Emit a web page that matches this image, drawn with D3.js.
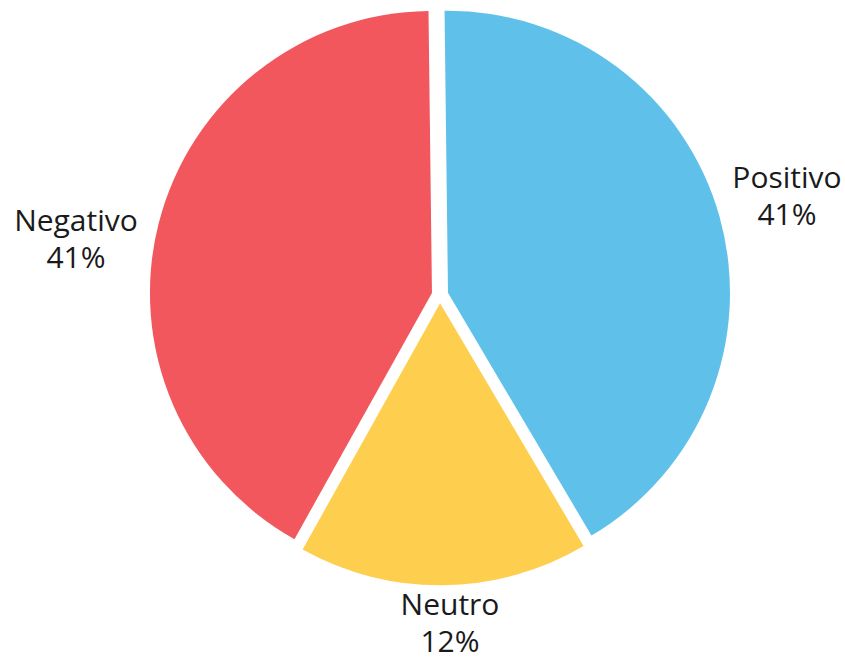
<!DOCTYPE html>
<html>
<head>
<meta charset="utf-8">
<script src="https://cdn.jsdelivr.net/npm/d3@7"></script>
<style>
  html, body { margin: 0; padding: 0; background: #ffffff; }
  svg { display: block; }
</style>
</head>
<body>
<svg id="chart" width="845" height="660"></svg>
<script>
// ---- data ----
const categories = ["Positivo", "Neutro", "Negativo"];
const values = [41.7, 16.6, 41.7];          // slice sizes as drawn
const percentLabels = ["41%", "12%", "41%"]; // label text as printed
const colors = ["#5FC1EA", "#FECE4F", "#F2575D"];

// ---- layout ----
const W = 845, H = 660;
const cx = 440, cy = 295, radius = 282, explode = 8.3;
const rot = -0.7 * Math.PI / 180;
// label block centres (x) and first baseline (y)
const labelAnchors = [[787, 188], [450, 615], [76, 231]];
const lineGap = 37;

const svg = d3.select("#chart");
const g = svg.append("g").attr("transform", `translate(${cx},${cy})`);

const pie = d3.pie().sort(null).value(d => d)
  .startAngle(rot).endAngle(rot + 2 * Math.PI);
const arcs = pie(values);
const arc = d3.arc().innerRadius(0).outerRadius(radius);

g.selectAll("path.slice")
  .data(arcs)
  .join("path")
  .attr("class", "slice")
  .attr("d", arc)
  .attr("fill", (d, i) => colors[i])
  .attr("transform", d => {
    const mid = (d.startAngle + d.endAngle) / 2;
    return `translate(${Math.sin(mid) * explode},${-Math.cos(mid) * explode})`;
  });

const labels = svg.selectAll("text.lbl")
  .data(arcs)
  .join("text")
  .attr("class", "lbl")
  .attr("text-anchor", "middle")
  .attr("font-family", "'Open Sans', sans-serif")
  .attr("font-size", 30)
  .attr("fill", "#1a1a1a");

labels.append("tspan")
  .attr("x", (d, i) => labelAnchors[i][0])
  .attr("y", (d, i) => labelAnchors[i][1])
  .text((d, i) => categories[i]);
labels.append("tspan")
  .attr("x", (d, i) => labelAnchors[i][0])
  .attr("y", (d, i) => labelAnchors[i][1] + lineGap)
  .text((d, i) => percentLabels[i]);
</script>
</body>
</html>
